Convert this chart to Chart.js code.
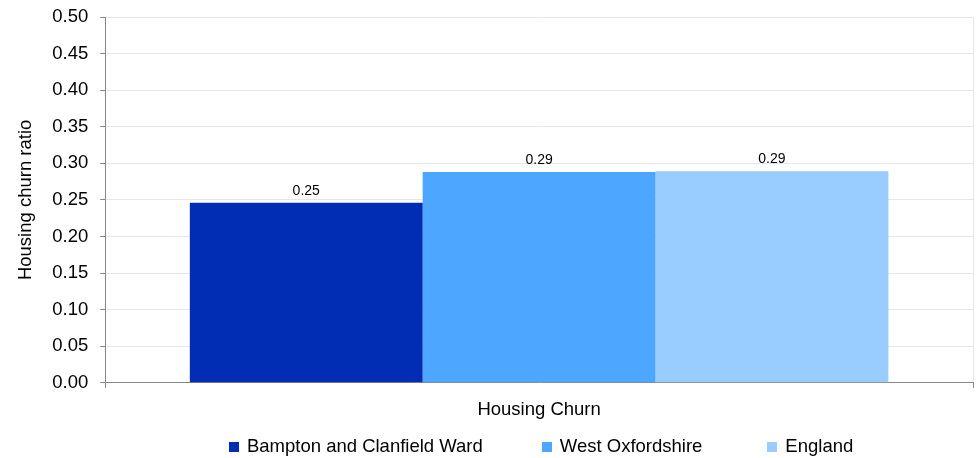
<!DOCTYPE html>
<html>
<head>
<meta charset="utf-8">
<script src="https://cdn.jsdelivr.net/npm/chart.js@4.4.1/dist/chart.umd.min.js"></script>
<style>
html,body{margin:0;padding:0;background:#fff;}
#wrap{width:980px;height:458px;position:relative;}
</style>
</head>
<body>
<div id="wrap"><canvas id="c"></canvas></div>
<script>
const categories = ["Housing Churn"];
const seriesNames = ["Bampton and Clanfield Ward", "West Oxfordshire", "England"];
const bamptonValues = [0.246];
const westOxfordshireValues = [0.288];
const englandValues = [0.289];
const seriesColors = ["#002DB3", "#4DA6FF", "#99CCFF"];
const yTickMin = 0, yTickMax = 0.5, yTickStep = 0.05;
const yAxisTitle = "Housing churn ratio";

const FONT = "'Liberation Sans', Arial, sans-serif";
const FS = 18.5;

const dataLabels = {
  id: 'dataLabels',
  afterDatasetsDraw(chart) {
    const ctx = chart.ctx;
    ctx.save();
    ctx.font = "14px " + FONT;
    ctx.fillStyle = "#000";
    ctx.textAlign = "center";
    ctx.textBaseline = "bottom";
    chart.data.datasets.forEach((ds, i) => {
      const meta = chart.getDatasetMeta(i);
      meta.data.forEach((el, j) => {
        ctx.fillText(ds.data[j].toFixed(2), el.x, el.y - 5);
      });
    });
    ctx.restore();
  }
};

// Legend drawn below the axis, centred under the plot area
const customLegend = {
  id: 'customLegend',
  afterDraw(chart) {
    const ctx = chart.ctx;
    const gaps = [59, 65];
    const box = 10, boxGap = 8;
    ctx.save();
    ctx.font = FS + "px " + FONT;
    ctx.textBaseline = "middle";
    ctx.textAlign = "left";
    const items = chart.data.datasets.map(ds => ({
      text: ds.label, color: ds.backgroundColor,
      w: box + boxGap + ctx.measureText(ds.label).width
    }));
    let total = items.reduce((s, it) => s + it.w, 0) + gaps.reduce((s, g) => s + g, 0);
    const cx = (chart.chartArea.left + chart.chartArea.right) / 2 + 2;
    let x = cx - total / 2;
    const y = chart.height - 11;
    items.forEach((it, i) => {
      ctx.fillStyle = it.color;
      ctx.fillRect(Math.round(x), Math.round(y - box / 2), box, box);
      ctx.fillStyle = "#000";
      ctx.fillText(it.text, x + box + boxGap, y);
      x += it.w + (gaps[i] || 0);
    });
    ctx.restore();
  }
};

new Chart(document.getElementById('c'), {
  type: 'bar',
  data: {
    labels: categories,
    datasets: [
      { label: seriesNames[0], data: bamptonValues, backgroundColor: seriesColors[0] },
      { label: seriesNames[1], data: westOxfordshireValues, backgroundColor: seriesColors[1] },
      { label: seriesNames[2], data: englandValues, backgroundColor: seriesColors[2] }
    ]
  },
  options: {
    responsive: true,
    maintainAspectRatio: false,
    animation: false,
    devicePixelRatio: 1,
    layout: { padding: { top: 1, right: 7, left: 15, bottom: 26 } },
    datasets: { bar: { categoryPercentage: 0.805, barPercentage: 1.0, borderWidth: 0 } },
    scales: {
      x: {
        offset: true,
        grid: { display: true, color: '#e6e6e6', tickColor: '#888', tickLength: 5, drawOnChartArea: true },
        border: { display: true, color: '#888', width: 1 },
        ticks: { color: '#000', font: { family: FONT, size: FS }, padding: 11 }
      },
      y: {
        min: yTickMin, max: yTickMax,
        afterFit(scale) { scale.paddingTop = 17; scale.paddingBottom = 0; },
        grid: { color: '#e6e6e6', tickColor: '#888', tickLength: 5 },
        border: { display: true, color: '#888', width: 1 },
        ticks: { stepSize: yTickStep, color: '#000', font: { family: FONT, size: FS }, padding: 12,
                 callback: v => Number(v).toFixed(2) },
        title: { display: true, text: yAxisTitle, color: '#000', font: { family: FONT, size: FS }, padding: { top: 0, bottom: 3 } }
      }
    },
    plugins: {
      legend: { display: false },
      tooltip: { enabled: false }
    }
  },
  plugins: [dataLabels, customLegend]
});
</script>
</body>
</html>
